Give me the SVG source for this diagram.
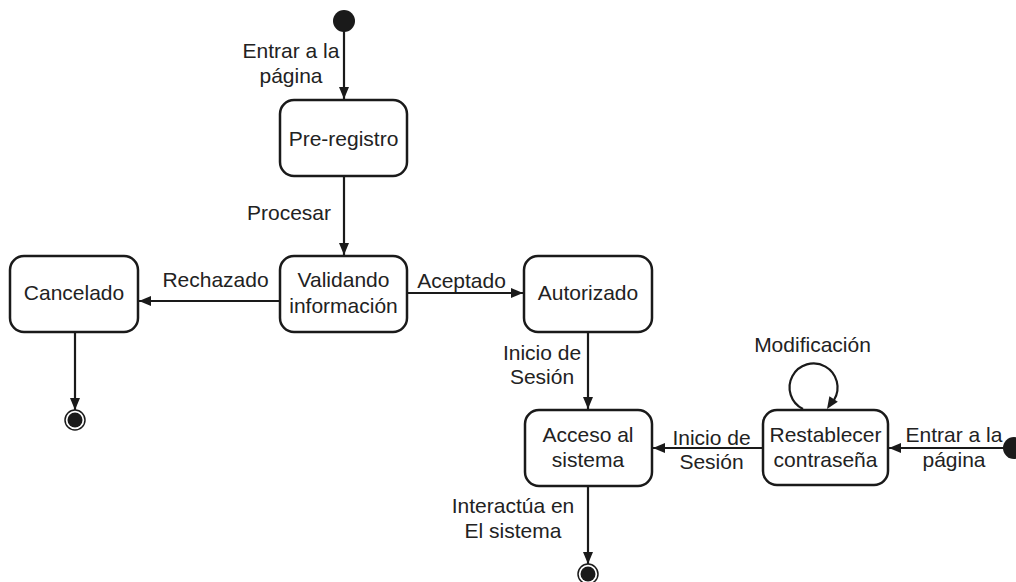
<svg xmlns="http://www.w3.org/2000/svg" width="1016" height="582" viewBox="0 0 1016 582">
<style>
.st{fill:#fff;stroke:#1a1a1a;stroke-width:2.5}
.t{font-family:"Liberation Sans",Arial,sans-serif;font-size:21px;fill:#222;text-anchor:middle}
.c{fill:none;stroke:#1a1a1a;stroke-width:2.2}
.ini{fill:#1a1a1a}
.fo{fill:#fff;stroke:#1a1a1a;stroke-width:1.5}
.fi{fill:#1a1a1a}
.hd{fill:#1a1a1a}
</style>
<defs>
<marker id="ah" viewBox="0 0 12 10" refX="12" refY="5" markerWidth="12" markerHeight="10" markerUnits="userSpaceOnUse" orient="auto">
<path d="M0,0 L12,5 L0,10 z" fill="#1a1a1a"/>
</marker>
</defs>
<rect width="1016" height="582" fill="#fff"/>
<g id="start1"><circle class="ini" cx="344" cy="21" r="11"/></g>
<g id="start2"><circle class="ini" cx="1014" cy="448" r="11"/></g>
<g id="preregistro">
<rect class="st" x="280" y="100" width="127" height="76" rx="14"/>
<text class="t" x="343.5" y="146">Pre-registro</text>
</g>
<g id="validando">
<rect class="st" x="280" y="256" width="127" height="76" rx="14"/>
<text class="t" x="343.5" y="287">Validando</text>
<text class="t" x="343.5" y="313">información</text>
</g>
<g id="cancelado">
<rect class="st" x="10" y="256" width="128" height="76" rx="14"/>
<text class="t" x="74" y="300">Cancelado</text>
</g>
<g id="autorizado">
<rect class="st" x="524" y="256" width="128" height="76" rx="14"/>
<text class="t" x="588" y="300">Autorizado</text>
</g>
<g id="acceso">
<rect class="st" x="525" y="410" width="127" height="76" rx="14"/>
<text class="t" x="588" y="442">Acceso al</text>
<text class="t" x="588" y="467">sistema</text>
</g>
<g id="restablecer">
<rect class="st" x="763" y="410" width="125" height="75" rx="14"/>
<text class="t" x="825.5" y="442">Restablecer</text>
<text class="t" x="825.5" y="467">contraseña</text>
</g>
<g id="end1"><circle class="fo" cx="75" cy="420" r="10"/><circle class="fi" cx="75" cy="420" r="7.5"/></g>
<g id="end2"><circle class="fo" cx="588" cy="574" r="10"/><circle class="fi" cx="588" cy="574" r="7.5"/></g>
<g id="connectors">
<line class="c" x1="344" y1="30" x2="344" y2="99" marker-end="url(#ah)"/>
<line class="c" x1="344" y1="176" x2="344" y2="255" marker-end="url(#ah)"/>
<line class="c" x1="280" y1="301" x2="139" y2="301" marker-end="url(#ah)"/>
<line class="c" x1="407" y1="293" x2="523" y2="293" marker-end="url(#ah)"/>
<line class="c" x1="75" y1="332" x2="75" y2="410" marker-end="url(#ah)"/>
<line class="c" x1="588" y1="332" x2="588" y2="409" marker-end="url(#ah)"/>
<line class="c" x1="588" y1="486" x2="588" y2="564" marker-end="url(#ah)"/>
<line class="c" x1="763" y1="448" x2="653" y2="448" marker-end="url(#ah)"/>
<line class="c" x1="1004" y1="448" x2="889" y2="448" marker-end="url(#ah)"/>
<path class="c" d="M803 409 A24 24 0 1 1 834 400"/>
<polygon class="hd" points="827,409 837.8,401.7 829.4,396.2"/>
<text class="t" x="291" y="58">Entrar a la</text>
<text class="t" x="291" y="83">página</text>
<text class="t" x="289" y="220">Procesar</text>
<text class="t" x="215.5" y="287">Rechazado</text>
<text class="t" x="461.5" y="288">Aceptado</text>
<text class="t" x="542" y="360">Inicio de</text>
<text class="t" x="542" y="384">Sesión</text>
<text class="t" x="711.5" y="445">Inicio de</text>
<text class="t" x="711.5" y="469">Sesión</text>
<text class="t" x="812.5" y="352">Modificación</text>
<text class="t" x="954" y="442">Entrar a la</text>
<text class="t" x="954" y="467">página</text>
<text class="t" x="513" y="513">Interactúa en</text>
<text class="t" x="513" y="538">El sistema</text>
</g>
</svg>
